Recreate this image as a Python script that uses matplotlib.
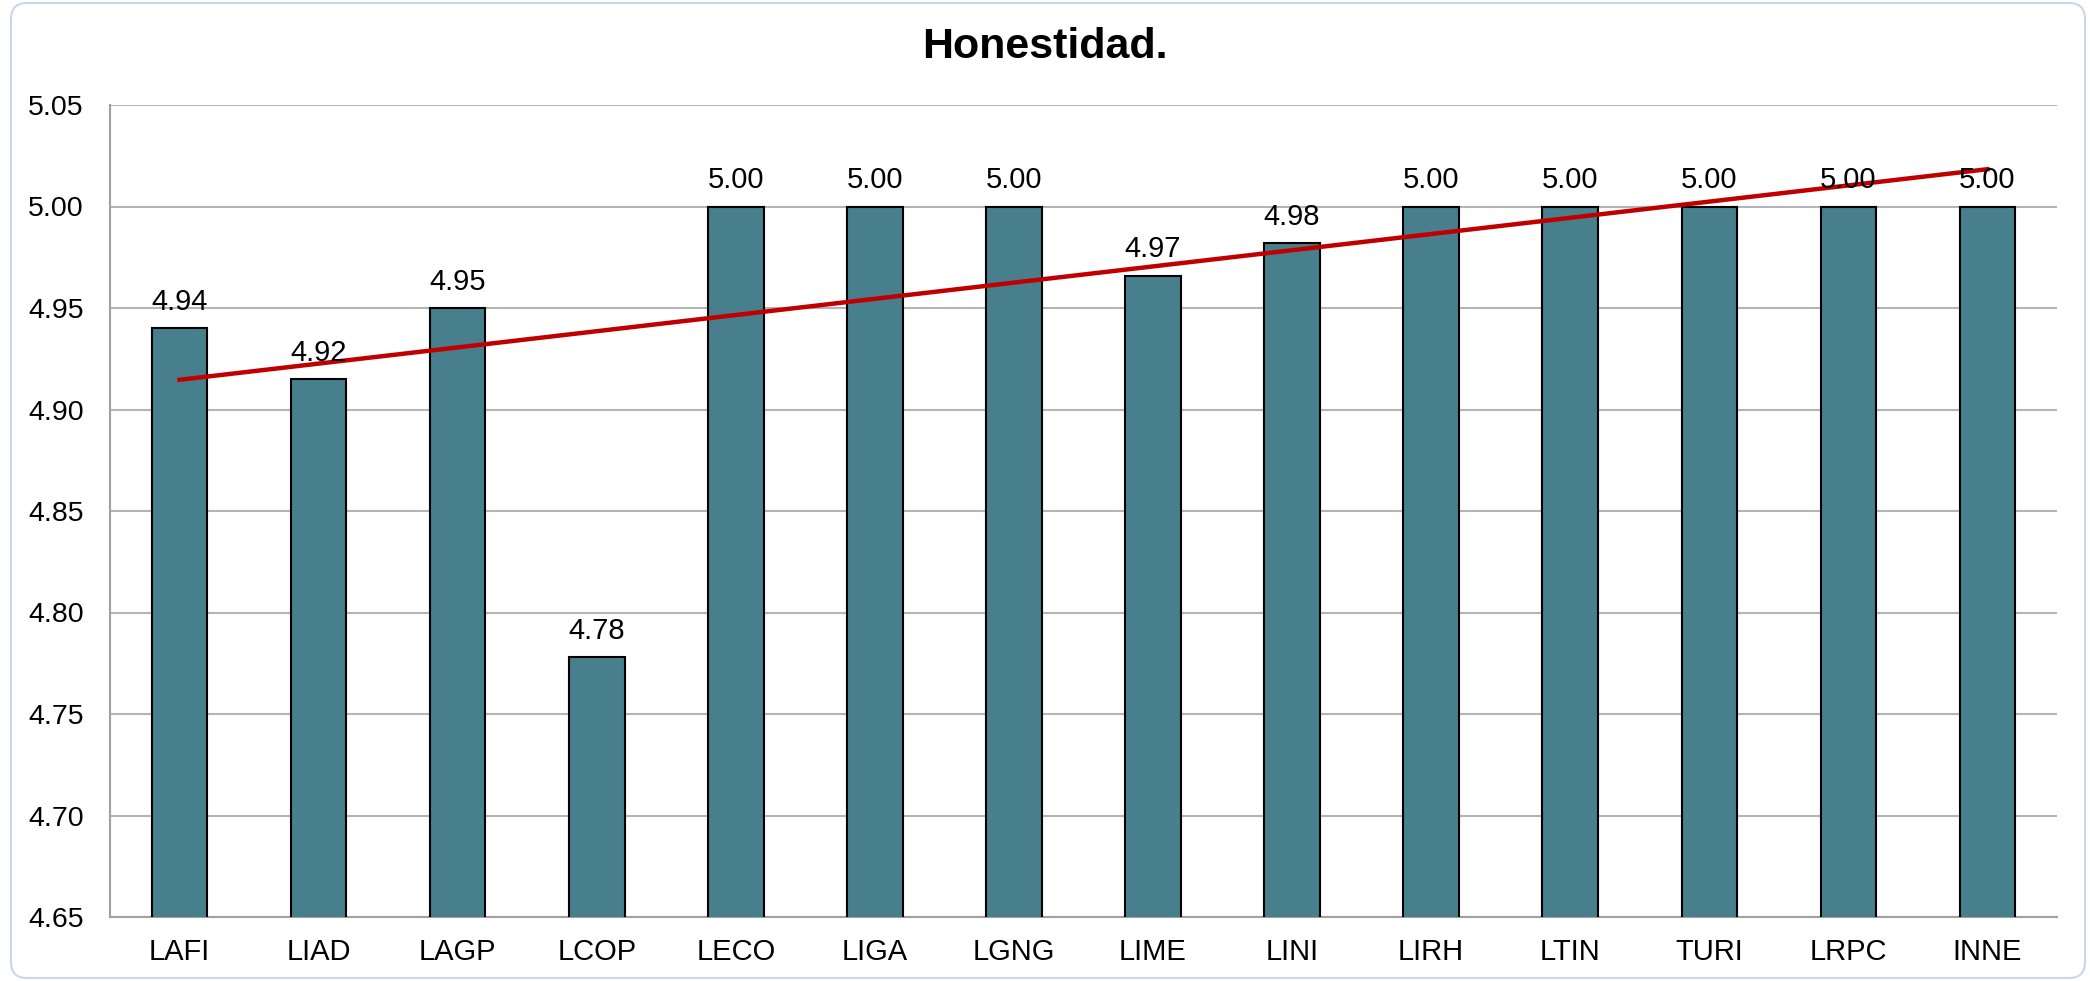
import matplotlib.pyplot as plt
from matplotlib.patches import FancyBboxPatch
import numpy as np

plt.rcParams['font.family'] = ['Liberation Sans', 'DejaVu Sans']

# Chart data
programas = ['LAFI', 'LIAD', 'LAGP', 'LCOP', 'LECO', 'LIGA', 'LGNG',
             'LIME', 'LINI', 'LIRH', 'LTIN', 'TURI', 'LRPC', 'INNE']
valores = [4.94, 4.915, 4.95, 4.778, 5.00, 5.00, 5.00,
           4.966, 4.982, 5.00, 5.00, 5.00, 5.00, 5.00]
y_ticks = [4.65, 4.70, 4.75, 4.80, 4.85, 4.90, 4.95, 5.00, 5.05]

fig = plt.figure(figsize=(20.9, 9.81), dpi=100)

# rounded outer frame (in inches)
frame = FancyBboxPatch((0.11, 0.03), 20.74, 9.75,
                       boxstyle='round,pad=0,rounding_size=0.16',
                       transform=fig.dpi_scale_trans, facecolor='white',
                       edgecolor='#c9d7ea', linewidth=1.5, zorder=-10)
fig.patches.append(frame)

ax = fig.add_axes([110 / 2090, 1 - 917 / 981, (2057 - 110) / 2090, (917 - 105) / 981])
ax.set_facecolor('none')
ax.set_zorder(1)

x = np.arange(len(programas))
bars = ax.bar(x, valores, width=0.4, color='#477f8c', edgecolor='black',
              linewidth=1.5, zorder=3)

for xi, v in zip(x, valores):
    ax.text(xi, v + 0.006, f'{v:.2f}', ha='center', va='bottom', fontsize=21, zorder=5)

# linear trend line
m, b = np.polyfit(x, valores, 1)
ax.plot([x[0], x[-1]], [m * x[0] + b, m * x[-1] + b], color='#c00000', linewidth=3.2, zorder=4)

ax.set_ylim(4.65, 5.05)
ax.set_xlim(-0.5, len(programas) - 0.5)
ax.set_yticks(y_ticks)
ax.set_yticklabels([f'{t:.2f}' for t in y_ticks])
ax.set_xticks(x)
ax.set_xticklabels(programas)
ax.tick_params(axis='y', length=0, pad=19, labelsize=20.5)
ax.tick_params(axis='x', length=0, pad=15, labelsize=21)
ax.grid(axis='y', color='#b4b4b4', linewidth=1.5, zorder=1)
ax.set_axisbelow(True)

for side in ['top', 'right']:
    ax.spines[side].set_visible(False)
for side in ['left', 'bottom']:
    ax.spines[side].set_color('#a0a0a0')
    ax.spines[side].set_linewidth(1.5)

fig.text(0.5, 1 - 47 / 981, 'Honestidad.', ha='center', va='center',
         fontsize=31, fontweight='bold')

fig.savefig('out.png', dpi=100)
